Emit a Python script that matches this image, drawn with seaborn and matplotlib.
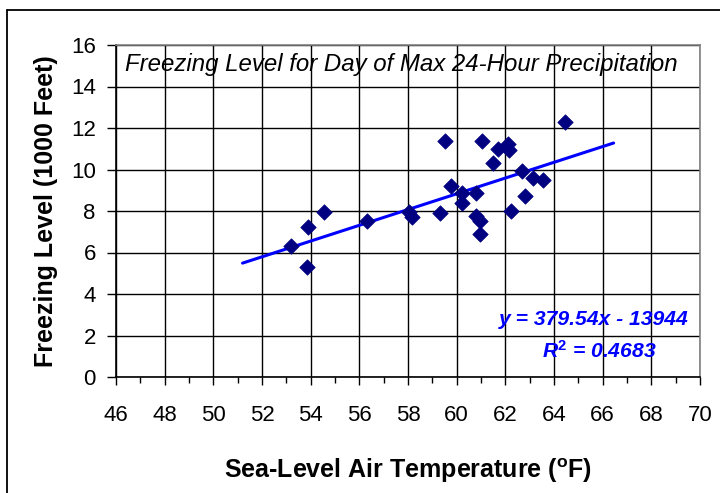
import numpy as np
import pandas as pd
import matplotlib
matplotlib.use("Agg")
import matplotlib.pyplot as plt
from matplotlib.lines import Line2D
import seaborn as sns

# ---- data ----
temp_f = [53.2, 53.85, 53.9, 54.55, 56.3, 58.05, 58.15, 59.3, 59.5, 59.75,
          60.2, 60.2, 60.8, 60.8, 60.95, 60.95, 61.05, 61.5, 61.7,
          62.1, 62.15, 62.25, 62.7, 62.8, 63.15, 63.55, 64.45]
freeze_kft = [6.3, 5.3, 7.25, 7.95, 7.5, 7.95, 7.7, 7.9, 11.35, 9.2,
              8.85, 8.4, 8.85, 7.75, 7.5, 6.9, 11.35, 10.3, 11.0,
              11.25, 10.95, 8.0, 9.95, 8.7, 9.6, 9.5, 12.3]
slope_ft = 379.54
intercept_ft = -13944
r_squared = 0.4683
trend_extend = 2.0  # trendline forecast forward/backward (deg F)

x_ticks = list(range(46, 71, 2))
y_ticks = list(range(0, 17, 2))

title = "Freezing Level for Day of Max 24-Hour Precipitation"
xlabel = "Sea-Level Air Temperature ($^{\\mathbf{o}}$F)"
ylabel = "Freezing Level (1000 Feet)"
eq_text = "y = 379.54x - 13944"
r2_text = "R$^{\\mathbf{2}}$ = 0.4683"

df = pd.DataFrame({"temp": temp_f, "level": freeze_kft})
x_tr = np.array([min(temp_f) - trend_extend, max(temp_f) + trend_extend])
trend = pd.DataFrame({"temp": x_tr, "level": (slope_ft * x_tr + intercept_ft) / 1000.0})

# ---- style ----
sns.set_theme(style="white")
plt.rcParams["font.family"] = ["Liberation Sans", "DejaVu Sans"]
plt.rcParams["mathtext.fontset"] = "custom"
plt.rcParams["mathtext.rm"] = "Liberation Sans"
plt.rcParams["mathtext.bf"] = "Liberation Sans:bold"
plt.rcParams["mathtext.it"] = "Liberation Sans:italic"
for key in ["text.color", "axes.labelcolor", "xtick.color", "ytick.color",
            "xtick.labelcolor", "ytick.labelcolor"]:
    plt.rcParams[key] = "black"

fig = plt.figure(figsize=(7.2, 4.93), dpi=100)
ax = fig.add_axes([116 / 720, 1 - 377 / 493, 584 / 720, (377 - 45) / 493])

ax.grid(True, axis="both", color="black", linewidth=1.0)
ax.set_axisbelow(True)

sns.lineplot(data=trend, x="temp", y="level", ax=ax, color="#0000FF",
             linewidth=2.2, zorder=3)
sns.scatterplot(data=df, x="temp", y="level", ax=ax, marker="D", s=62,
                color="#000080", edgecolor="#000080", linewidth=0.5, zorder=4)

ax.set_xlim(46, 70)
ax.set_ylim(0, 16)
ax.set_xticks(x_ticks)
ax.set_yticks(y_ticks)
ax.set_xticks(list(range(47, 70, 2)), minor=True)
ax.tick_params(axis="x", which="major", direction="out", length=6, width=1,
               color="black", labelcolor="black", labelsize=16, pad=14,
               bottom=True)
ax.tick_params(axis="x", which="minor", direction="out", length=4, width=1,
               color="black", bottom=True)
ax.tick_params(axis="y", which="major", direction="out", length=6.5, width=1,
               color="black", labelcolor="black", labelsize=16, pad=8,
               left=True)

for side in ["left", "bottom"]:
    ax.spines[side].set_color("black")
    ax.spines[side].set_linewidth(1.2)
for side in ["top", "right"]:
    ax.spines[side].set_color("#808080")
    ax.spines[side].set_linewidth(1.2)

ax.set_xlabel(xlabel, fontsize=18, fontweight="bold", labelpad=22,
              color="black")
ax.set_ylabel(ylabel, fontsize=18, fontweight="bold", labelpad=9,
              color="black")

ax.text(0.015, 0.975, title, transform=ax.transAxes, fontsize=17.3,
        fontstyle="italic", ha="left", va="top", color="black")
ax.text(0.981, 0.172, eq_text, transform=ax.transAxes, fontsize=15.2,
        fontstyle="italic", fontweight="bold", ha="right", va="center",
        color="#0000FF")
ax.text(0.925, 0.08, r2_text, transform=ax.transAxes, fontsize=15.2,
        fontstyle="italic", fontweight="bold", ha="right", va="center",
        color="#0000FF")

# outer chart-area border
bx, by = 7 / 720, 1 - 10 / 493
fig.add_artist(Line2D([bx, bx], [0, by], transform=fig.transFigure,
                      color="black", linewidth=1.3))
fig.add_artist(Line2D([bx, 1], [by, by], transform=fig.transFigure,
                      color="black", linewidth=1.3))

fig.savefig("out.png", dpi=100, facecolor="white")
